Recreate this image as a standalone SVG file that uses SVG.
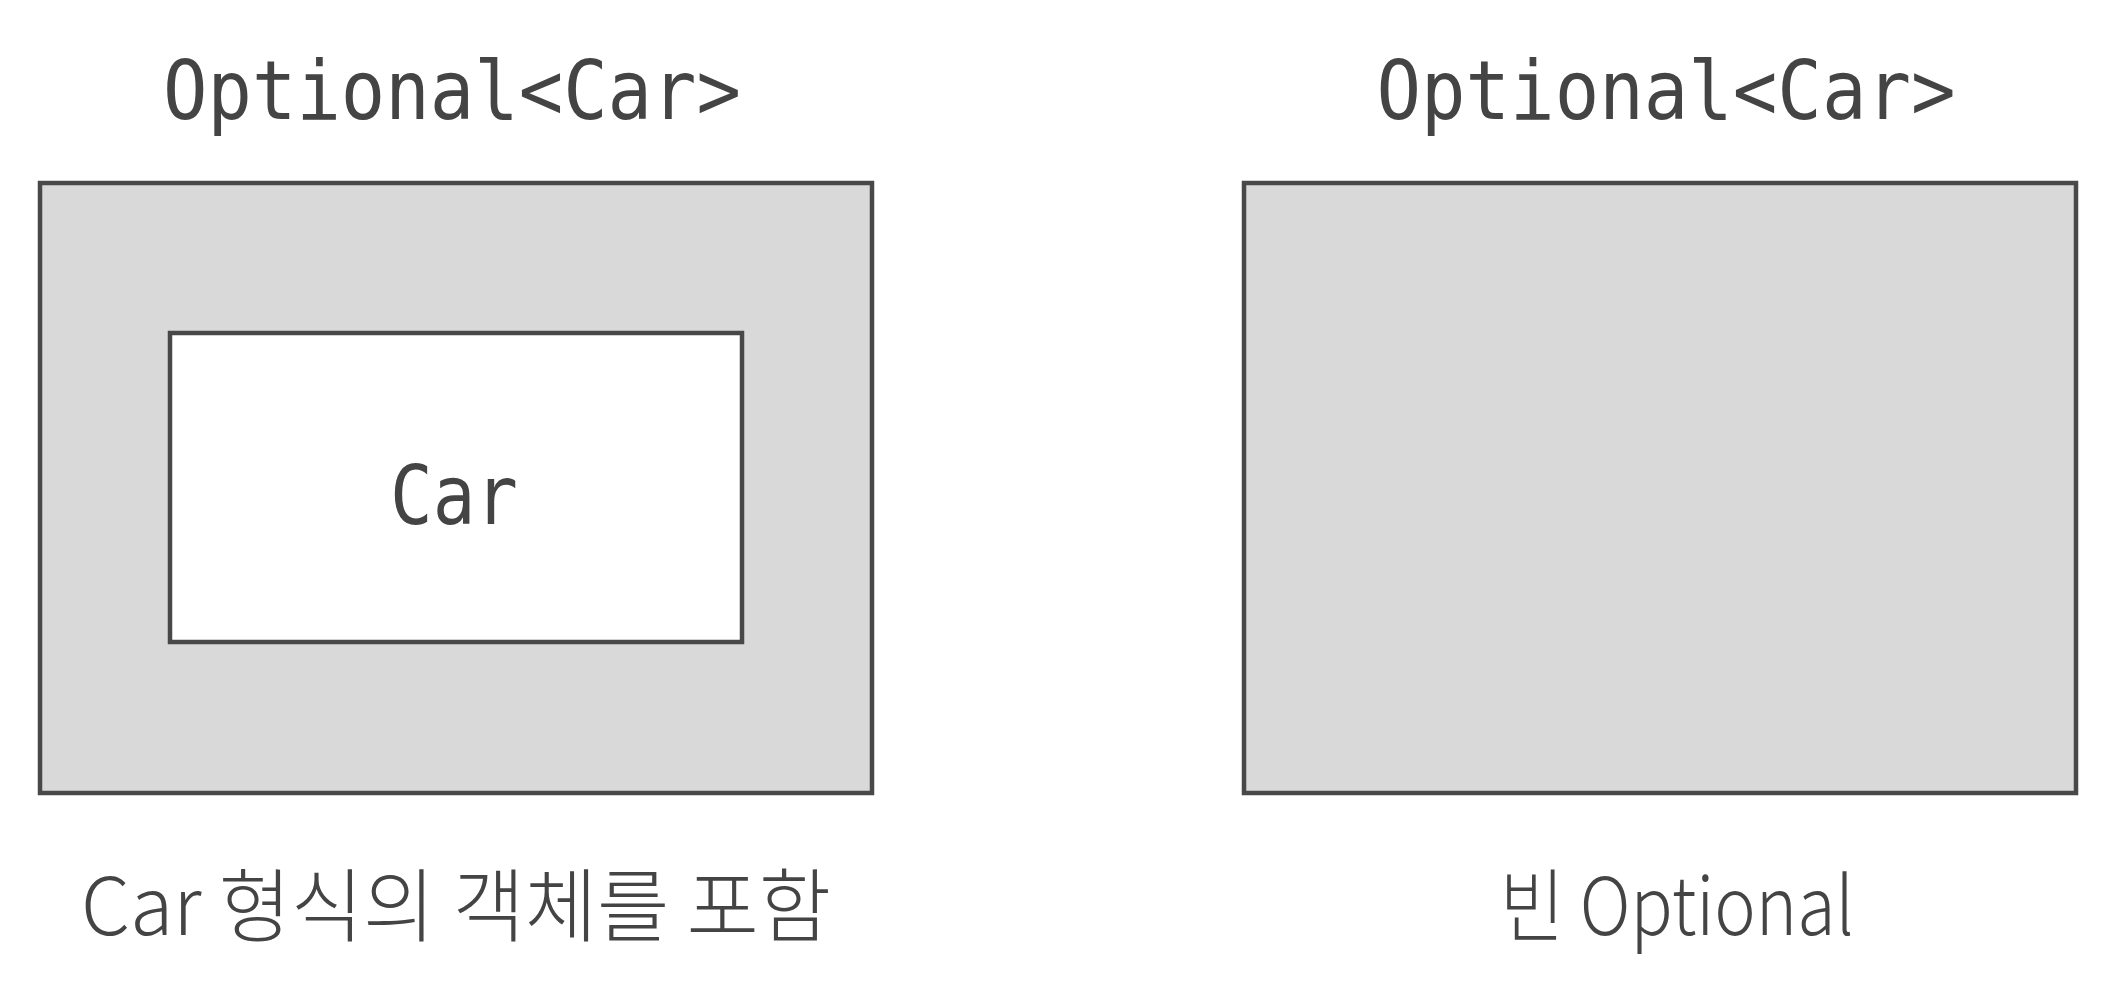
<svg xmlns="http://www.w3.org/2000/svg" width="2118" height="1000" viewBox="0 0 2118 1000">
<style>
.box{fill:#d9d9d9;stroke:#484848;stroke-width:4.5}
.inner{fill:#ffffff;stroke:#484848;stroke-width:4.5}
.mono{font-family:"DejaVu Sans Mono","Liberation Mono",monospace;font-size:82px;fill:#444444;text-anchor:middle}
.cap{font-family:"Noto Sans CJK KR","Noto Sans",sans-serif;font-weight:300;font-size:80px;fill:#444444;text-anchor:middle}
</style>
<rect width="2118" height="1000" fill="#ffffff"/>
<g id="optional-full">
<text class="mono" x="452" y="119" textLength="578" lengthAdjust="spacingAndGlyphs">Optional&lt;Car&gt;</text>
<rect class="box" x="40" y="183" width="832" height="610"/>
<g id="car">
<rect class="inner" x="170" y="333" width="572" height="309"/>
<text class="mono" x="454" y="524" textLength="128" lengthAdjust="spacingAndGlyphs">Car</text>
</g>
<text class="cap" x="456" y="935" textLength="750" lengthAdjust="spacingAndGlyphs">Car 형식의 객체를 포함</text>
</g>
<g id="optional-empty">
<text class="mono" x="1666" y="119" textLength="579" lengthAdjust="spacingAndGlyphs">Optional&lt;Car&gt;</text>
<rect class="box" x="1244" y="183" width="832" height="610"/>
<text class="cap" x="1677" y="935" textLength="354" lengthAdjust="spacingAndGlyphs">빈 Optional</text>
</g>
<g id="connectors"/>
</svg>
